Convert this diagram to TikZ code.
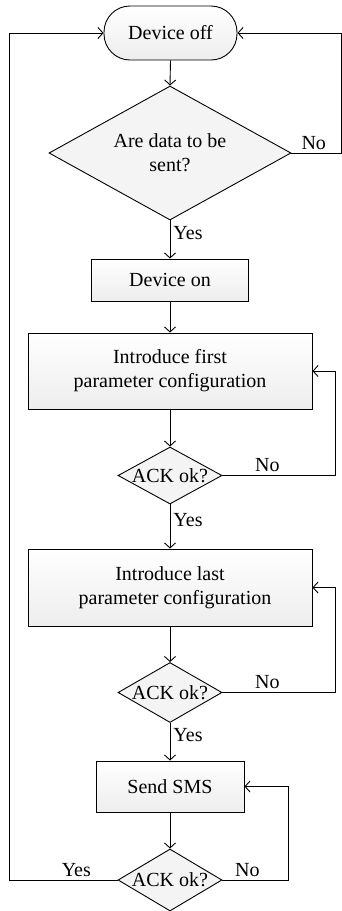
\documentclass[tikz,border=0pt]{standalone}
\usepackage{fontspec}
\setmainfont{Liberation Serif}
\usetikzlibrary{shapes.geometric,arrows.meta,calc}
\begin{document}
\begin{tikzpicture}[x=1pt,y=-1pt,
  font=\fontsize{20}{24}\selectfont,
  line width=0.9pt,
  arr/.style={-{Straight Barb[length=5pt,width=11pt,line width=0.9pt]}},
  procbox/.style={draw, rectangle, top color=white, bottom color=gray!14, align=center, inner sep=0pt},
  termbox/.style={draw, rectangle, rounded corners=26pt, top color=white, bottom color=gray!14, minimum width=133pt, minimum height=54pt, inner sep=0pt},
  decbox/.style={draw, diamond, fill=gray!9, inner sep=0pt},
  lbl/.style={inner sep=3pt}
]
\useasboundingbox (0,0) rectangle (342,911);

\node[termbox] (off) at (170.5,33) {Device off};
\node[decbox, minimum width=242pt, minimum height=134pt,
      label={[align=center]center:Are data to be\\sent?}] (d1) at (170,153) {};
\node[procbox, minimum width=157pt, minimum height=42pt] (on) at (170,280) {Device on};
\node[procbox, minimum width=284pt, minimum height=76pt] (p1) at (170,371) {Introduce first\\parameter configuration};
\node[decbox, minimum width=104pt, minimum height=57pt, label=center:{ACK ok?}] (a1) at (170,475.5) {};
\node[procbox, minimum width=284pt, minimum height=77pt] (p2) at (170,587.5) {Introduce last\\\hspace*{10pt}parameter configuration};
\node[decbox, minimum width=104pt, minimum height=60pt, label=center:{ACK ok?}] (a2) at (170,692.5) {};
\node[procbox, minimum width=148pt, minimum height=51pt] (sms) at (170,786.5) {Send SMS};
\node[decbox, minimum width=104pt, minimum height=62pt, label=center:{ACK ok?}] (a3) at (170,880) {};

\coordinate (rtop) at (341,0);
\coordinate (rp1) at (335,0);
\coordinate (rp2) at (335,0);
\coordinate (rsms) at (288,0);
\coordinate (lft) at (9,0);

\draw[arr] (off.south) -- (d1.north);
\draw[arr] (d1.south) -- node[lbl, right, pos=0.33] {Yes} (on.north);
\draw[arr] (on.south) -- (p1.north);
\draw[arr] (p1.south) -- (a1.north);
\draw[arr] (a1.south) -- node[lbl, right, pos=0.35] {Yes} (p2.north);
\draw[arr] (p2.south) -- (a2.north);
\draw[arr] (a2.south) -- node[lbl, right, pos=0.33] {Yes} (sms.north);
\draw[arr] (sms.south) -- (a3.north);

\draw[arr] (d1.east) -- node[lbl, above, pos=0.45] {No} (d1.east -| rtop) |- (off.east);
\draw[arr] (a1.east) -- node[lbl, above, pos=0.4] {No} (a1.east -| rp1) |- (p1.east);
\draw[arr] (a2.east) -- node[lbl, above, pos=0.4] {No} (a2.east -| rp2) |- (p2.east);
\draw[arr] (a3.east) -- node[lbl, above, pos=0.38] {No} (a3.east -| rsms) |- (sms.east);
\draw[arr] (a3.west) -- node[lbl, above, pos=0.38] {Yes} (a3.west -| lft) |- (off.west);
\end{tikzpicture}
\end{document}
